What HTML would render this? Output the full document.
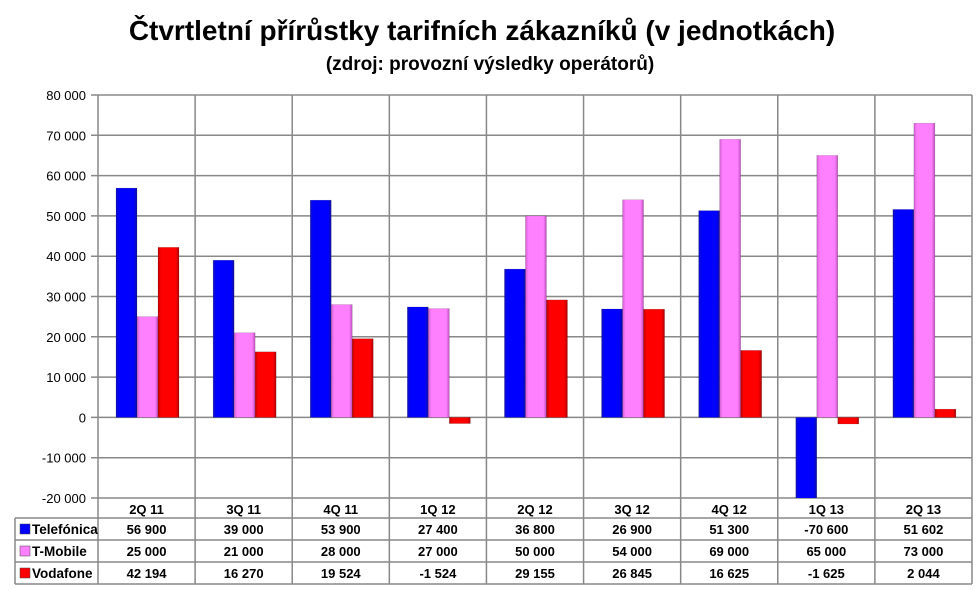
<!DOCTYPE html>
<html><head><meta charset="utf-8"><style>
html,body{margin:0;padding:0;background:#fff;width:980px;height:590px;overflow:hidden;font-family:"Liberation Sans",sans-serif}
svg{display:block}
</style></head><body>
<svg width="980" height="590" xmlns="http://www.w3.org/2000/svg">
<defs>
<linearGradient id="gb" x1="0" x2="1"><stop offset="0" stop-color="#1010c0"/><stop offset="0.15" stop-color="#0000ff"/><stop offset="0.85" stop-color="#0000ff"/><stop offset="1" stop-color="#1010a0"/></linearGradient>
<linearGradient id="gp" x1="0" x2="1"><stop offset="0" stop-color="#d060d0"/><stop offset="0.15" stop-color="#ff80ff"/><stop offset="0.85" stop-color="#ff80ff"/><stop offset="1" stop-color="#c050c0"/></linearGradient>
<linearGradient id="gr" x1="0" x2="1"><stop offset="0" stop-color="#c00000"/><stop offset="0.15" stop-color="#ff0000"/><stop offset="0.85" stop-color="#ff0000"/><stop offset="1" stop-color="#b00000"/></linearGradient>
<clipPath id="plotclip"><rect x="98" y="90" width="875" height="408"/></clipPath>
</defs>
<text x="482" y="40" text-anchor="middle" font-size="28" font-weight="bold">Čtvrtletní přírůstky tarifních zákazníků (v jednotkách)</text>
<text x="490" y="70" text-anchor="middle" font-size="19" font-weight="bold">(zdroj: provozní výsledky operátorů)</text>
<g id="grid"></g>
<g id="bars" clip-path="url(#plotclip)"></g>
<g id="table"></g>
</svg>
<script>
const categories=["2Q 11","3Q 11","4Q 11","1Q 12","2Q 12","3Q 12","4Q 12","1Q 13","2Q 13"];
const seriesNames=["Telefónica","T-Mobile","Vodafone"];
const telefonica=[56900,39000,53900,27400,36800,26900,51300,-70600,51602];
const tmobile=[25000,21000,28000,27000,50000,54000,69000,65000,73000];
const vodafone=[42194,16270,19524,-1524,29155,26845,16625,-1625,2044];
const yTicks=[80000,70000,60000,50000,40000,30000,20000,10000,0,-10000,-20000];
const ns="http://www.w3.org/2000/svg";
const X0=98,X1=972,colW=(X1-X0)/9,yMax=80000,yMin=-20000,Yt=95,Yb=498;
const y=v=>Yt+(yMax-v)/(yMax-yMin)*(Yb-Yt);
const fmt=v=>{const s=Math.abs(v).toString().replace(/\B(?=(\d{3})+(?!\d))/g," ");return (v<0?"-":"")+s;};
function mk(tag,attrs,parent,text){const e=document.createElementNS(ns,tag);for(const k in attrs)e.setAttribute(k,attrs[k]);if(text!==undefined)e.textContent=text;parent.appendChild(e);return e;}
const grid=document.getElementById("grid"),bars=document.getElementById("bars"),table=document.getElementById("table");
yTicks.forEach(t=>{const l=mk("line",{x1:X0-7,x2:X1,y1:y(t),y2:y(t),stroke:"#888","stroke-width":1.5},grid);


const tx=mk("text",{x:X0-12,y:y(t)+5,"text-anchor":"end","font-size":13},grid,fmt(t));

});
for(let i=0;i<=9;i++){const l=mk("line",{x1:X0+i*colW,x2:X0+i*colW,y1:Yt,y2:584,stroke:"#888","stroke-width":1.5},grid);

}
const data=[telefonica,tmobile,vodafone],fills=["url(#gb)","url(#gp)","url(#gr)"],sw=["#0000ff","#ff80ff","#ff0000"];
categories.forEach((c,i)=>{data.forEach((s,j)=>{const v=s[i];const bx=X0+i*colW+18+j*21;const y0=y(0),yv=y(v);
const r=mk("rect",{x:bx,y:Math.min(y0,yv),width:21,height:Math.abs(yv-y0),fill:fills[j],stroke:"rgba(0,0,0,0.25)","stroke-width":0.5},bars);

});
const ct=mk("text",{x:X0+i*colW+colW/2,y:514,"text-anchor":"middle","font-size":13,"font-weight":"bold"},table,c);

});
const rows=[518,540,562,584];
rows.forEach(ry=>{const l=mk("line",{x1:15,x2:X1,y1:ry,y2:ry,stroke:"#888","stroke-width":1.5},table);

});
const lb=mk("line",{x1:15,x2:15,y1:518,y2:584,stroke:"#888","stroke-width":1.5},table);


seriesNames.forEach((n,j)=>{const cy=rows[j]+11;
const sq=mk("rect",{x:20,y:cy-5,width:10,height:10,fill:sw[j],stroke:"#444","stroke-width":0.5},table);


const t=mk("text",{x:32,y:cy+5,"font-size":13.5,"font-weight":"bold"},table,n);


data[j].forEach((v,i)=>{const vt=mk("text",{x:X0+i*colW+colW/2,y:cy+5,"text-anchor":"middle","font-size":13,"font-weight":"bold"},table,fmt(v));

});});
</script>
</body></html>
